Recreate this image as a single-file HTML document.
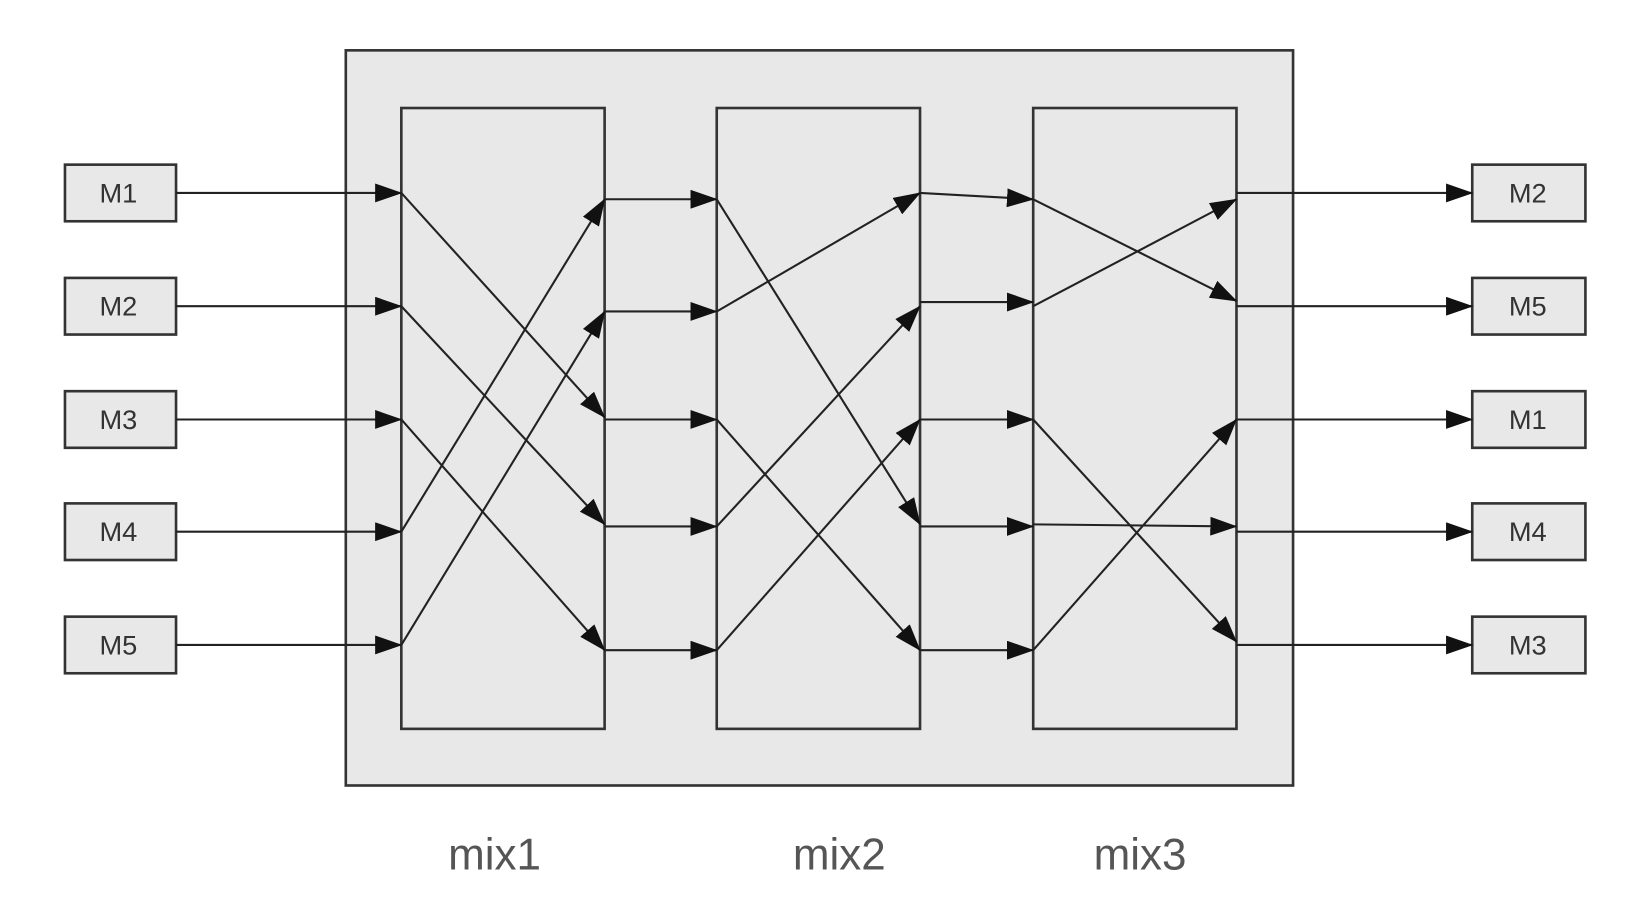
<!DOCTYPE html>
<html><head><meta charset="utf-8"><style>
html,body{margin:0;padding:0;background:#fff;}
svg{display:block;}
</style></head><body>
<svg width="1642" height="904" viewBox="0 0 1567 862" preserveAspectRatio="none" xmlns="http://www.w3.org/2000/svg">
<defs>
<marker id="a" markerUnits="userSpaceOnUse" markerWidth="26" markerHeight="18" refX="25" refY="9" orient="auto">
<path d="M0,0 L26,9 L0,18 Z" fill="#111"/>
</marker>
</defs>
<rect x="330" y="48" width="904" height="701" fill="#e8e8e8" stroke="#333" stroke-width="2.5"/>
<g fill="#e8e8e8" stroke="#333" stroke-width="2.5">
<rect x="383" y="103" width="194" height="592"/>
<rect x="684" y="103" width="194" height="592"/>
<rect x="986" y="103" width="194" height="592"/>
</g>
<g fill="#e8e8e8" stroke="#333" stroke-width="2.5">
<rect x="62" y="157" width="106" height="54"/>
<rect x="62" y="265" width="106" height="54"/>
<rect x="62" y="373" width="106" height="54"/>
<rect x="62" y="480" width="106" height="54"/>
<rect x="62" y="588" width="106" height="54"/>
<rect x="1405" y="157" width="108" height="54"/>
<rect x="1405" y="265" width="108" height="54"/>
<rect x="1405" y="373" width="108" height="54"/>
<rect x="1405" y="480" width="108" height="54"/>
<rect x="1405" y="588" width="108" height="54"/>
</g>
<g font-family="Liberation Sans, sans-serif" font-size="26" fill="#333" text-anchor="middle">
<text x="113" y="193">M1</text>
<text x="113" y="301">M2</text>
<text x="113" y="409">M3</text>
<text x="113" y="516">M4</text>
<text x="113" y="624">M5</text>
<text x="1458" y="193">M2</text>
<text x="1458" y="301">M5</text>
<text x="1458" y="409">M1</text>
<text x="1458" y="516">M4</text>
<text x="1458" y="624">M3</text>
</g>
<g stroke="#222" stroke-width="2" fill="none" marker-end="url(#a)">
<line x1="168" y1="184" x2="383" y2="184"/>
<line x1="168" y1="292" x2="383" y2="292"/>
<line x1="168" y1="400" x2="383" y2="400"/>
<line x1="168" y1="507" x2="383" y2="507"/>
<line x1="168" y1="615" x2="383" y2="615"/>
<line x1="383" y1="184" x2="577" y2="398"/>
<line x1="383" y1="292" x2="577" y2="500"/>
<line x1="383" y1="400" x2="577" y2="620"/>
<line x1="383" y1="507" x2="577" y2="190"/>
<line x1="383" y1="615" x2="577" y2="297"/>
<line x1="577" y1="190" x2="684" y2="190"/>
<line x1="577" y1="297" x2="684" y2="297"/>
<line x1="577" y1="400" x2="684" y2="400"/>
<line x1="577" y1="502" x2="684" y2="502"/>
<line x1="577" y1="620" x2="684" y2="620"/>
<line x1="684" y1="190" x2="878" y2="500"/>
<line x1="684" y1="297" x2="878" y2="184"/>
<line x1="684" y1="400" x2="878" y2="620"/>
<line x1="684" y1="502" x2="878" y2="292"/>
<line x1="684" y1="620" x2="878" y2="400"/>
<line x1="878" y1="184" x2="986" y2="190"/>
<line x1="878" y1="288" x2="986" y2="288"/>
<line x1="878" y1="400" x2="986" y2="400"/>
<line x1="878" y1="502" x2="986" y2="502"/>
<line x1="878" y1="620" x2="986" y2="620"/>
<line x1="986" y1="190" x2="1180" y2="287"/>
<line x1="986" y1="292" x2="1180" y2="190"/>
<line x1="986" y1="400" x2="1180" y2="612"/>
<line x1="986" y1="500" x2="1180" y2="502"/>
<line x1="986" y1="620" x2="1180" y2="400"/>
<line x1="1180" y1="184" x2="1405" y2="184"/>
<line x1="1180" y1="292" x2="1405" y2="292"/>
<line x1="1180" y1="400" x2="1405" y2="400"/>
<line x1="1180" y1="507" x2="1405" y2="507"/>
<line x1="1180" y1="615" x2="1405" y2="615"/>
</g>
<g font-family="Liberation Sans, sans-serif" font-size="42" fill="#555" text-anchor="middle">
<text x="472" y="829">mix1</text>
<text x="801" y="829">mix2</text>
<text x="1088" y="829">mix3</text>
</g>
</svg>
</body></html>
